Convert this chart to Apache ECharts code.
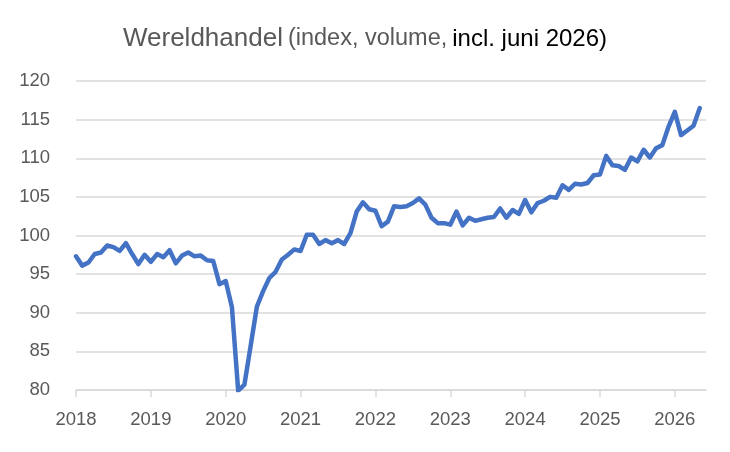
<!DOCTYPE html>
<html>
<head>
<meta charset="utf-8">
<script src="https://cdn.jsdelivr.net/npm/echarts@6/dist/echarts.min.js"></script>
<style>
html,body{margin:0;padding:0;background:#fff;}
#c{width:730px;height:452px;}
</style>
</head>
<body>
<div id="c"></div>
<script>
// Monthly world trade volume index, Jan 2018 .. May 2026
const yearLabels = ['2018','2019','2020','2021','2022','2023','2024','2025','2026'];
const values = [
  // 2018
  97.3, 96.1, 96.5, 97.6, 97.8, 98.7, 98.5, 98.0, 99.0, 97.6, 96.3, 97.5,
  // 2019
  96.6, 97.6, 97.2, 98.1, 96.4, 97.4, 97.8, 97.3, 97.4, 96.8, 96.7, 93.7,
  // 2020
  94.1, 90.7, 79.9, 80.7, 85.7, 90.8, 92.8, 94.5, 95.3, 96.9, 97.5, 98.2,
  // 2021
  98.0, 100.1, 100.1, 98.9, 99.4, 99.0, 99.4, 98.9, 100.3, 103.1, 104.3, 103.4,
  // 2022
  103.2, 101.2, 101.8, 103.8, 103.7, 103.8, 104.2, 104.8, 104.0, 102.3, 101.6, 101.6,
  // 2023
  101.4, 103.1, 101.3, 102.3, 101.9, 102.1, 102.3, 102.4, 103.5, 102.3, 103.3, 102.8,
  // 2024
  104.6, 103.0, 104.2, 104.5, 105.0, 104.9, 106.5, 105.9, 106.7, 106.6, 106.8, 107.8,
  // 2025
  107.9, 110.3, 109.1, 109.0, 108.5, 110.1, 109.6, 111.1, 110.1, 111.3, 111.7, 114.1,
  // 2026
  116.0, 113.0, 113.6, 114.2, 116.5
];
const yTicks = [80, 85, 90, 95, 100, 105, 110, 115, 120];

const points = values.map((v, i) => [i, v]);
const yearTickPos = yearLabels.map((_, i) => i * 12);

const chart = echarts.init(document.getElementById('c'), null, {renderer: 'canvas'});
chart.setOption({
  backgroundColor: '#ffffff',
  animation: false,
  title: {
    left: 'center',
    top: 21,
    text: '{a|Wereldhandel} {b|(index, volume,} {c|incl. juni 2026)}',
    textStyle: {
      fontWeight: 'normal',
      rich: {
        a: {fontFamily: 'Liberation Sans', fontSize: 26, fontWeight: 'normal', color: '#595959'},
        b: {fontFamily: 'Liberation Sans', fontSize: 23.5, fontWeight: 'normal', color: '#595959'},
        c: {fontFamily: 'Liberation Sans', fontSize: 24, fontWeight: 'normal', color: '#000000'}
      }
    }
  },
  grid: {left: 76, right: 24, top: 81, bottom: 62, containLabel: false},
  xAxis: {
    type: 'value',
    min: 0,
    max: 101,
    interval: 12,
    axisLine: {show: true, lineStyle: {color: '#d9d9d9', width: 1.5}},
    axisTick: {show: true, length: 7, lineStyle: {color: '#d9d9d9', width: 1.5}, customValues: yearTickPos},
    axisLabel: {
      customValues: yearTickPos,
      formatter: v => yearLabels[Math.round(v / 12)] || '',
      fontFamily: 'Liberation Sans', fontSize: 18.5, color: '#595959', margin: 20
    },
    splitLine: {show: false}
  },
  yAxis: {
    type: 'value',
    min: yTicks[0],
    max: yTicks[yTicks.length - 1],
    interval: 5,
    axisLine: {show: false},
    axisTick: {show: false},
    axisLabel: {fontFamily: 'Liberation Sans', fontSize: 18.5, color: '#595959', margin: 26},
    splitLine: {show: true, lineStyle: {color: '#d9d9d9', width: 1.5}}
  },
  series: [{
    type: 'line',
    data: points,
    showSymbol: false,
    symbol: 'none',
    smooth: false,
    clip: true,
    lineStyle: {color: '#4472c4', width: 4.5, join: 'round', cap: 'round'}
  }]
});
</script>
</body>
</html>
